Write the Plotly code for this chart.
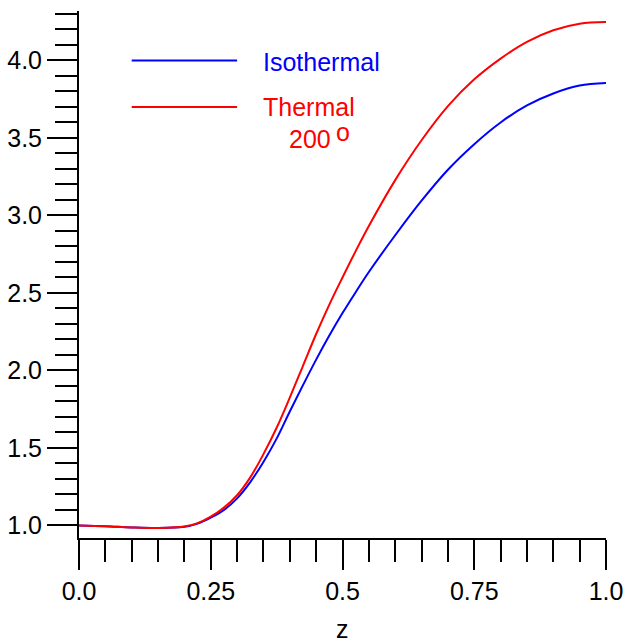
import plotly.graph_objects as go

# ---- data ----
z = [0.0, 0.05, 0.1, 0.15, 0.2, 0.225, 0.25, 0.275, 0.3, 0.325, 0.35, 0.375, 0.4, 0.425,
     0.45, 0.475, 0.5, 0.525, 0.55, 0.6, 0.65, 0.7, 0.75, 0.8, 0.85, 0.9, 0.95, 1.0]
isothermal = [1.0, 0.995, 0.987, 0.983, 0.991, 1.012, 1.05, 1.10, 1.175, 1.28, 1.41, 1.56,
              1.735, 1.905, 2.07, 2.225, 2.37, 2.505, 2.635, 2.872, 3.095, 3.295, 3.46,
              3.60, 3.71, 3.787, 3.838, 3.854]
thermal = [1.0, 0.995, 0.987, 0.984, 0.993, 1.015, 1.057, 1.115, 1.195, 1.31, 1.46, 1.63,
           1.825, 2.03, 2.235, 2.425, 2.60, 2.77, 2.932, 3.228, 3.485, 3.705, 3.878,
           4.012, 4.12, 4.195, 4.237, 4.248]

x_tickvals = [0.0, 0.25, 0.5, 0.75, 1.0]
x_ticktext = ["0.0", "0.25", "0.5", "0.75", "1.0"]
y_tickvals = [1.0, 1.5, 2.0, 2.5, 3.0, 3.5, 4.0]
y_ticktext = ["1.0", "1.5", "2.0", "2.5", "3.0", "3.5", "4.0"]

series_names = ["Isothermal", "Thermal"]
series_colors = ["#0000ff", "#ff0000"]

FONT = "Liberation Sans, Arial, sans-serif"
FS = 25

fig = go.Figure()
fig.add_trace(go.Scatter(x=z, y=isothermal, mode="lines", name=series_names[0],
                         line=dict(color=series_colors[0], width=2, shape="spline",
                                   smoothing=1.0)))
fig.add_trace(go.Scatter(x=z, y=thermal, mode="lines", name=series_names[1],
                         line=dict(color=series_colors[1], width=2, shape="spline",
                                   smoothing=1.0)))

# in-plot legend (lines + labels)
legend_y = [4.0, 3.7]
for yv, col in zip(legend_y, series_colors):
    fig.add_shape(type="line", x0=0.1, x1=0.3, y0=yv, y1=yv, xref="x", yref="y",
                  line=dict(color=col, width=2))

fig.add_annotation(x=0.346, y=3.99, text="Isothermal", showarrow=False, xanchor="left",
                   yanchor="middle", font=dict(family=FONT, size=FS, color=series_colors[0]))
fig.add_annotation(x=0.346, y=3.697, text="Thermal", showarrow=False, xanchor="left",
                   yanchor="middle", font=dict(family=FONT, size=FS, color=series_colors[1]))
fig.add_annotation(x=0.394, y=3.494, text="200", showarrow=False, xanchor="left",
                   yanchor="middle", font=dict(family=FONT, size=FS, color=series_colors[1]))
fig.add_annotation(x=0.483, y=3.54, text="o", showarrow=False, xanchor="left",
                   yanchor="middle", font=dict(family=FONT, size=FS, color=series_colors[1]))

# axis title
fig.add_annotation(x=0.5, y=-0.1727, xref="x", yref="paper", text="z", showarrow=False,
                   xanchor="center", yanchor="middle", font=dict(family=FONT, size=FS, color="black"))

axis_common = dict(showline=True, linecolor="black", linewidth=2, ticks="outside",
                   ticklen=30, tickwidth=2, tickcolor="black", showgrid=False,
                   zeroline=False, mirror=False, automargin=False,
                   tickfont=dict(family=FONT, size=FS, color="black"))

fig.update_xaxes(range=[0, 1], tickvals=x_tickvals, ticktext=x_ticktext,
                 minor=dict(ticks="outside", ticklen=22, tickwidth=2, tickcolor="black",
                            dtick=0.05, tick0=0, showgrid=False),
                 **axis_common)
fig.update_yaxes(range=[0.919, 4.319], tickvals=y_tickvals, ticktext=y_ticktext,
                 minor=dict(ticks="outside", ticklen=22, tickwidth=2, tickcolor="black",
                            dtick=0.1, tick0=0, showgrid=False),
                 **axis_common)

fig.update_layout(width=627, height=643,
                  margin=dict(l=79, r=21, t=11, b=105, pad=0, autoexpand=False),
                  paper_bgcolor="white", plot_bgcolor="white",
                  showlegend=False,
                  font=dict(family=FONT, size=FS, color="black"))

fig.write_html("out.html", config={"displayModeBar": False},
               post_script="document.body.style.margin='0';document.body.style.overflow='hidden';")
